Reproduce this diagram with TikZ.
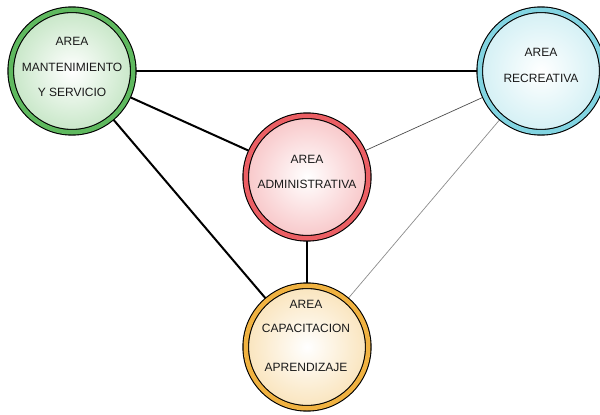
\documentclass[tikz,border=0pt]{standalone}
\usepackage{fontspec}
\setmainfont{Liberation Sans}
\usetikzlibrary{backgrounds}
\definecolor{verde}{RGB}{95,185,95}
\definecolor{rojo}{RGB}{235,95,100}
\definecolor{celeste}{RGB}{130,212,225}
\definecolor{naranja}{RGB}{240,178,65}
\begin{document}
\begin{tikzpicture}[x=1pt,y=-1pt,
		area/.style={circle, draw=black, line width=1.1pt, double=#1, double distance=4.5pt,
			minimum size=122.5pt, inner sep=0pt, inner color=white, outer color=#1!35},
		txt/.style={align=center, inner sep=0pt, text=black!90,
			font=\fontsize{12}{25.5}\selectfont},
		fuerte/.style={line width=2pt},
		fino/.style={line width=0.7pt, #1},
		fino/.default=black!70]
	\useasboundingbox (0,0) rectangle (600,415);
	% areas
	\node[area=verde] (grn) at (72,71) {};
	\node[area=celeste] (cya) at (541,71) {};
	\node[area=rojo] (red) at (307,177) {};
	\node[area=naranja] (orn) at (307,347) {};
	% textos
	\node[txt] (tGrn) at (72,67) {AREA\\MANTENIMIENTO\\Y SERVICIO};
	\node[txt] (tCya) at (541,65.5) {AREA\\RECREATIVA};
	\node[txt] (tRed) at (307,172) {AREA\\ADMINISTRATIVA};
	\node[txt] (tOrn) at (306,336) {AREA\\[-2pt]CAPACITACION\\[14pt]APRENDIZAJE};
	% conexiones
	\begin{scope}[on background layer]
		\draw[fuerte] (grn) -- (cya);
		\draw[fuerte] (grn) -- (red);
		\draw[fuerte] (grn) -- (orn);
		\draw[fuerte] (red) -- (orn);
		\draw[fino] (red) -- (cya);
		\draw[fino=black!45] (orn) -- (cya);
	\end{scope}
\end{tikzpicture}
\end{document}
